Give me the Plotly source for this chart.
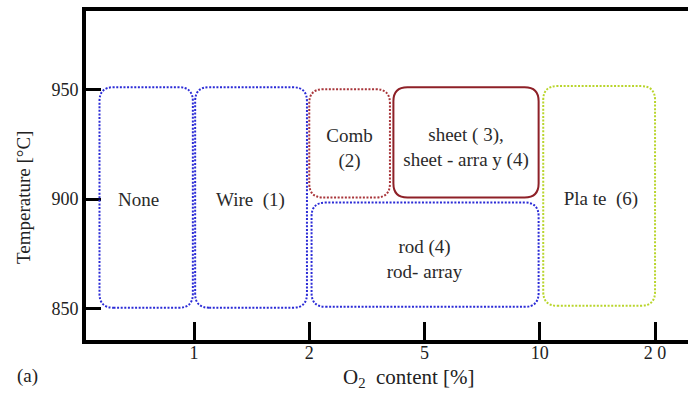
import plotly.graph_objects as go

# O2 content categories (equally spaced on the axis)
x_tick_pos = [1, 2, 3, 4, 5]
x_tick_labels = ["1", "2", "5", "10", "2 0"]
y_tick_vals = [850, 900, 950]

# Regions (position on O2 axis, temperature range)
region_names = ["None", "Wire  (1)", "Comb<br>(2)", "sheet ( 3),<br>sheet - arra y (4)", "rod (4)<br>rod- array", "Pla te  (6)"]
region_x0 = [0.18, 1.01, 2.00, 2.73, 2.02, 4.03]
region_x1 = [0.99, 1.98, 2.70, 3.99, 3.99, 5.00]
region_y0 = [850.5, 850.5, 900.7, 900.7, 850.9, 851.4]
region_y1 = [950.9, 950.9, 950.0, 950.9, 898.4, 951.4]
region_text_x = [0.52, 1.49, 2.35, 3.36, 3.00, 4.53]
region_text_y = [899, 899, 922.5, 923, 872, 899.5]
region_color = ["#2b2bd6", "#2b2bd6", "#a8353a", "#8e2027", "#2b2bd6", "#b9d52c"]
region_dash = ["2px,1.6px", "2px,1.6px", "2px,1.6px", "solid", "2px,1.6px", "2px,1.6px"]

W, H = 688, 393
ML, MR, MT, MB = 86, 0, 11, 53
x_range = [0.063, 5.286]
y_range = [835.8, 985.6]
PW, PH = W - ML - MR, H - MT - MB
px_x = PW / (x_range[1] - x_range[0])
px_y = PH / (y_range[1] - y_range[0])

def rounded(x0, x1, y0, y1, r=14):
    rx, ry = r / px_x, r / px_y
    return (f"M {x0+rx},{y0} L {x1-rx},{y0} Q {x1},{y0} {x1},{y0+ry} "
            f"L {x1},{y1-ry} Q {x1},{y1} {x1-rx},{y1} L {x0+rx},{y1} "
            f"Q {x0},{y1} {x0},{y1-ry} L {x0},{y0+ry} Q {x0},{y0} {x0+rx},{y0} Z")

def paper_x(px):
    return (px - ML) / PW

def paper_y(py):
    return (H - MB - py) / PH

font = "Liberation Serif, Times New Roman, serif"
fig = go.Figure()
fig.add_trace(go.Scatter(x=region_text_x, y=region_text_y, mode="text",
                         text=region_names, textfont=dict(family=font, size=19, color="#2a2a2a"),
                         hoverinfo="skip", showlegend=False))

for i in range(len(region_names)):
    fig.add_shape(type="path", xref="x", yref="y",
                  path=rounded(region_x0[i], region_x1[i], region_y0[i], region_y1[i]),
                  line=dict(color=region_color[i], width=2, dash=region_dash[i]))

fig.add_annotation(x=paper_x(27), y=paper_y(376), xref="paper", yref="paper", text="(a)",
                   xanchor="center", yanchor="middle",
                   showarrow=False, font=dict(family=font, size=19, color="#222"))
fig.add_annotation(x=paper_x(409), y=paper_y(378), xref="paper", yref="paper",
                   xanchor="center", yanchor="middle",
                   text="O<sub>2</sub>  content [%]", showarrow=False,
                   font=dict(family=font, size=21, color="#222"))
fig.add_annotation(x=paper_x(23), y=paper_y(198), xref="paper", yref="paper",
                   xanchor="center", yanchor="middle",
                   text="Temperature [°C]", textangle=-90, showarrow=False,
                   font=dict(family=font, size=19, color="#222"))

fig.update_layout(
    width=W, height=H, margin=dict(l=ML, r=MR, t=MT, b=MB, autoexpand=False),
    plot_bgcolor="white", paper_bgcolor="white", showlegend=False,
    font=dict(family=font, size=18, color="#222"),
    xaxis=dict(range=x_range, tickvals=x_tick_pos, ticktext=x_tick_labels, automargin=False,
               showgrid=False, zeroline=False, showline=True, linecolor="black", linewidth=4,
               mirror=True, ticks="inside", ticklen=18, tickwidth=3, tickcolor="black",
               tickfont=dict(size=18), ticklabelstandoff=-7),
    yaxis=dict(range=y_range, tickvals=y_tick_vals, automargin=False,
               showgrid=False, zeroline=False, showline=True, linecolor="black", linewidth=4,
               ticks="inside", ticklen=15, tickwidth=3, tickcolor="black",
               tickfont=dict(size=18)),
)
fig.write_html("out.html", config={"displayModeBar": False},
               post_script="document.body.style.margin='0';document.body.style.overflow='hidden';")
